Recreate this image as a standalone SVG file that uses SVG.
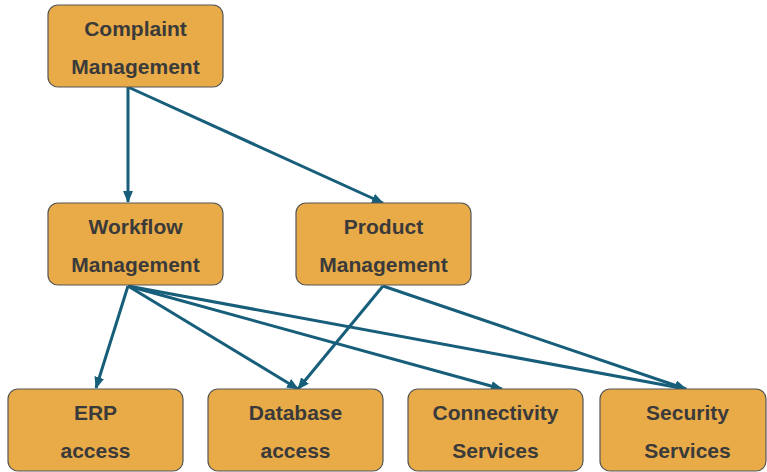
<svg xmlns="http://www.w3.org/2000/svg" width="767" height="472" viewBox="0 0 767 472">
  <style>
    .box { fill: #E8AB48; stroke: #555555; stroke-width: 1.2; }
    .lbl { font-family: "Liberation Sans", Arial, sans-serif; font-weight: bold; font-size: 21px; fill: #3a3a3a; text-anchor: middle; }
    .edge { stroke: #175E7A; stroke-width: 3; fill: none; }
  </style>
  <defs>
    <marker id="arrow" viewBox="0 0 12 10" refX="11" refY="5" markerWidth="12" markerHeight="10" markerUnits="userSpaceOnUse" orient="auto">
      <path d="M0,0 L12,5 L0,10 Z" fill="#175E7A"/>
    </marker>
  </defs>

  <g id="connectors">
    <line class="edge" x1="128" y1="87" x2="128" y2="202" marker-end="url(#arrow)"/>
    <line class="edge" x1="128" y1="87" x2="383" y2="203" marker-end="url(#arrow)"/>
    <line class="edge" x1="128" y1="286" x2="96" y2="388" marker-end="url(#arrow)"/>
    <line class="edge" x1="128" y1="286" x2="298" y2="389" marker-end="url(#arrow)"/>
    <line class="edge" x1="128" y1="286" x2="502" y2="389" marker-end="url(#arrow)"/>
    <line class="edge" x1="128" y1="286" x2="686" y2="389" marker-end="url(#arrow)"/>
    <line class="edge" x1="383" y1="286" x2="298" y2="389" marker-end="url(#arrow)"/>
    <line class="edge" x1="383" y1="286" x2="686" y2="389" marker-end="url(#arrow)"/>
  </g>

  <g id="complaint-management">
    <rect class="box" x="48" y="5" width="175" height="82" rx="10"/>
    <text class="lbl" x="135.5" y="36">Complaint</text>
    <text class="lbl" x="135.5" y="74">Management</text>
  </g>
  <g id="workflow-management">
    <rect class="box" x="48" y="203" width="175" height="82" rx="10"/>
    <text class="lbl" x="135.5" y="234">Workflow</text>
    <text class="lbl" x="135.5" y="272">Management</text>
  </g>
  <g id="product-management">
    <rect class="box" x="296" y="203" width="175" height="82" rx="10"/>
    <text class="lbl" x="383.5" y="234">Product</text>
    <text class="lbl" x="383.5" y="272">Management</text>
  </g>
  <g id="erp-access">
    <rect class="box" x="8" y="389" width="175" height="82" rx="10"/>
    <text class="lbl" x="95.5" y="420">ERP</text>
    <text class="lbl" x="95.5" y="458">access</text>
  </g>
  <g id="database-access">
    <rect class="box" x="208" y="389" width="175" height="82" rx="10"/>
    <text class="lbl" x="295.5" y="420">Database</text>
    <text class="lbl" x="295.5" y="458">access</text>
  </g>
  <g id="connectivity-services">
    <rect class="box" x="408" y="389" width="175" height="82" rx="10"/>
    <text class="lbl" x="495.5" y="420">Connectivity</text>
    <text class="lbl" x="495.5" y="458">Services</text>
  </g>
  <g id="security-services">
    <rect class="box" x="600" y="389" width="166" height="82" rx="10"/>
    <text class="lbl" x="687.5" y="420">Security</text>
    <text class="lbl" x="687.5" y="458">Services</text>
  </g>
</svg>
